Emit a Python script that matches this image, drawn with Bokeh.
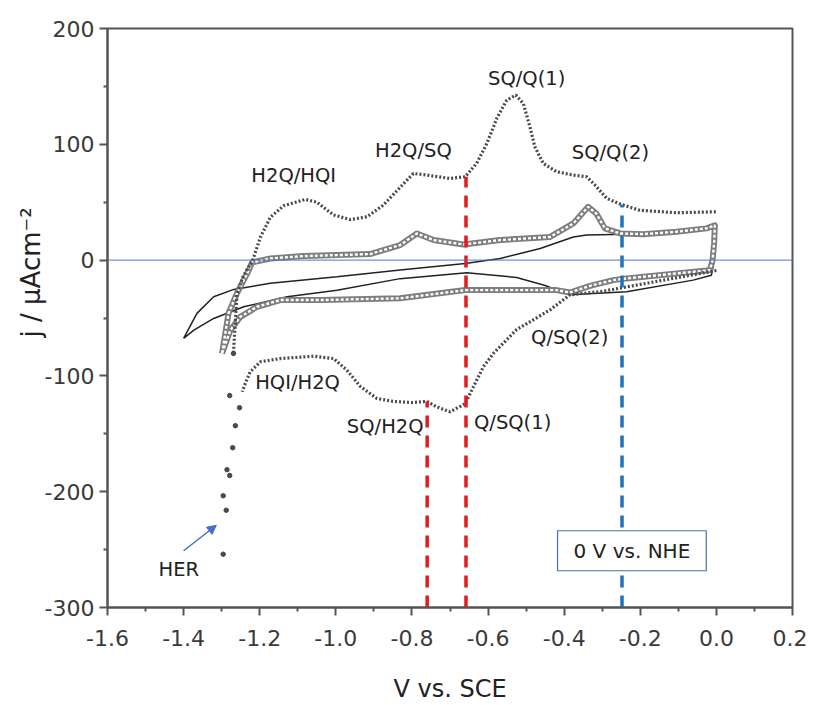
from bokeh.plotting import figure
from bokeh.models import (Range1d, FixedTicker, Span, Label, Arrow, NormalHead,
                          ColumnDataSource, Title)
from bokeh.core.properties import value
from bokeh.embed import file_html
from bokeh.resources import INLINE

FONT = "DejaVu Sans"

# ---------------- data ----------------
# dotted curve (+ markers): anodic branch
ox_v = [-1.269, -1.260, -1.245, -1.233, -1.220, -1.198, -1.172, -1.137, -1.080, -1.050,
        -1.006, -0.962, -0.918, -0.875, -0.822, -0.796, -0.761, -0.700, -0.660, -0.630,
        -0.603, -0.577, -0.551, -0.527, -0.507, -0.490, -0.477, -0.455, -0.420, -0.376,
        -0.341, -0.319, -0.288, -0.253, -0.201, -0.105, 0.0]
ox_j = [-80, -30, -15, -8, -1.5, 20, 37, 47, 52.4, 50,
        39, 35, 37.4, 47.5, 66, 74.8, 73.4, 70.5, 72, 83.5,
        100.8, 122.4, 138, 142.5, 135, 115, 97.8, 83.5, 76.3, 73.4,
        72, 64.8, 53.3, 48.4, 43, 40.9, 41.7]
# dotted curve: cathodic branch
rd_v = [0.0, -0.10, -0.20, -0.30, -0.385, -0.437, -0.525, -0.586, -0.612, -0.638,
        -0.660, -0.700, -0.735, -0.761, -0.800, -0.849, -0.892, -0.936, -0.971, -1.006,
        -1.059, -1.146, -1.198, -1.225, -1.238, -1.246]
rd_j = [-9, -15, -21, -27, -30, -43, -60, -80.6, -92, -109,
        -124, -131, -126.7, -122, -123, -122, -119.5, -109, -95, -85,
        -83, -85, -87.8, -96.4, -106.5, -113.7]
# sparse points in the HER region
her_v = [-1.269, -1.279, -1.253, -1.264, -1.271, -1.286, -1.279, -1.296, -1.288, -1.296]
her_j = [-80.6, -117, -127.5, -143, -162, -181, -186, -203.5, -216, -254]

# open-circle curve (closed loop)
circ_v = [-1.299, -1.282, -1.260, -1.233, -1.220, -1.172, -1.085, -0.997, -0.910, -0.831,
          -0.787, -0.743, -0.665, -0.568, -0.437, -0.376, -0.337, -0.315, -0.293, -0.253,
          -0.192, -0.105, -0.026, -0.004, -0.006, -0.010, -0.017, -0.026, -0.105, -0.236,
          -0.271, -0.330, -0.385, -0.420, -0.568, -0.660, -0.831, -1.041, -1.146, -1.207,
          -1.251, -1.277, -1.299]
circ_j = [-80.6, -46, -28.8, -11.5, -2, 1.4, 3.5, 4.3, 5.2, 13,
          23, 17.3, 13.5, 17.3, 20, 31.7, 46, 40, 27.4, 23,
          22.4, 24.5, 27.4, 30, 14.4, 0, -8.6, -9, -11.5, -15.8,
          -17.3, -22, -28, -25.9, -25.9, -25.9, -33, -34.5, -34.5, -40.3,
          -49, -60.4, -80.6]

# solid curve (closed loop)
sol_v = [-1.400, -1.365, -1.321, -1.268, -1.172, -0.997, -0.831, -0.660, -0.568, -0.463,
         -0.376, -0.341, -0.236, -0.105, -0.004, -0.006, -0.013, -0.061, -0.236, -0.385,
         -0.450, -0.525, -0.656, -0.831, -0.997, -1.128, -1.242, -1.321, -1.373, -1.400]
sol_j = [-67.6, -46, -31.7, -25.3, -20, -14.4, -8.6, -2.9, 1.4, 10,
         20, 21.6, 22.4, 24.5, 28.8, 0, -13, -17.3, -27.4, -30,
         -22, -15, -11, -16, -26, -31.7, -40.3, -50.4, -60.4, -67.6]

# vertical guide lines
guide_x = [-0.76, -0.658, -0.248]
guide_top = [-122, 72, 48]
guide_bottom = [-300, -300, -300]
guide_color = ["#e41a1c", "#e41a1c", "#1f72c0"]

# peak annotations
ann_text = ["H2Q/HQI", "H2Q/SQ", "SQ/Q(1)", "SQ/Q(2)", "HQI/H2Q", "SQ/H2Q", "Q/SQ(1)", "Q/SQ(2)", "HER"]
ann_x = [-1.222, -0.897, -0.600, -0.380, -1.212, -0.971, -0.637, -0.487, -1.466]
ann_y = [73.4, 95, 157, 93.3, -106, -144, -140, -67, -267]

x_ticks = [-1.6, -1.4, -1.2, -1.0, -0.8, -0.6, -0.4, -0.2, 0.0, 0.2]
x_tick_labels = ["-1.6", "-1.4", "-1.2", "-1.0", "-0.8", "-0.6", "-0.4", "-0.2", "0.0", "0.2"]
x_minor = [-1.5, -1.3, -1.1, -0.9, -0.7, -0.5, -0.3, -0.1, 0.1]
y_ticks = [-300, -200, -100, 0, 100, 200]
y_tick_labels = ["-300", "-200", "-100", "0", "100", "200"]
y_minor = [-250, -150, -50, 50, 150]

# ---------------- figure ----------------
p = figure(frame_width=685, frame_height=579,
           x_range=Range1d(-1.6, 0.2), y_range=Range1d(-300, 200),
           output_backend="svg", toolbar_location=None,
           min_border_left=107, min_border_right=15, min_border_top=28, min_border_bottom=60)
p.grid.visible = False
p.outline_line_color = "#555555"
p.outline_line_width = 2
p.background_fill_color = "white"

for ax in (p.xaxis[0], p.yaxis[0]):
    ax.axis_line_color = "#555555"
    ax.axis_line_width = 2
    ax.major_tick_line_color = "#555555"
    ax.major_tick_line_width = 2
    ax.minor_tick_line_color = "#555555"
    ax.minor_tick_line_width = 2
    ax.major_tick_out = 8
    ax.major_tick_in = 0
    ax.minor_tick_out = 4
    ax.minor_tick_in = 0
    ax.major_label_text_font = FONT
    ax.major_label_text_font_size = "22px"
    ax.major_label_text_color = "#3a3a3a"
p.xaxis.major_label_standoff = 14
p.yaxis.major_label_standoff = 5

p.xaxis.ticker = FixedTicker(ticks=x_ticks, minor_ticks=x_minor)
p.xaxis.major_label_overrides = dict(zip(x_ticks, x_tick_labels))
p.yaxis.ticker = FixedTicker(ticks=y_ticks, minor_ticks=y_minor)
p.yaxis.major_label_overrides = dict(zip(y_ticks, y_tick_labels))

p.xaxis.axis_label = "V vs. SCE"
p.xaxis.axis_label_text_font = FONT
p.xaxis.axis_label_text_font_style = "normal"
p.xaxis.axis_label_text_font_size = "24px"
p.xaxis.axis_label_text_color = "#222222"
p.xaxis.axis_label_standoff = 26

# y-axis label as a left title, shifted upward like the original
ytitle = Title(text="j / µAcm⁻²", align="left", offset=270,
               text_font=FONT, text_font_size="26px", text_font_style="normal",
               text_color="#222222")
if "standoff" in Title.properties():
    for s in (-8, 0):
        try:
            ytitle.standoff = s
            break
        except Exception:
            pass
p.add_layout(ytitle, "left")

# zero line
p.add_layout(Span(location=0, dimension="width", line_color="#4a78c0", line_width=1))

# solid curve
p.line(sol_v, sol_j, line_color="#222222", line_width=1.5)

# open-circle curve: grey chain
p.line(circ_v, circ_j, line_color="#7d7d7d", line_width=6, line_join="round")
p.line(circ_v, circ_j, line_color="white", line_width=2.4, line_dash="3 2")

# dotted curve
p.line(ox_v, ox_j, line_color="#4a4a4a", line_width=3.2, line_dash="2 2")
p.line(rd_v, rd_j, line_color="#4a4a4a", line_width=3.2, line_dash="2 2")
p.scatter(her_v, her_j, marker="circle", size=4.5, fill_color="#4a4a4a", line_color="#4a4a4a")

# guide lines
gsrc = ColumnDataSource(dict(x=guide_x, y0=guide_bottom, y1=guide_top, c=guide_color))
p.segment(x0="x", y0="y0", x1="x", y1="y1", source=gsrc, line_color="c",
          line_width=3.5, line_dash="12 8")

# annotations
asrc = ColumnDataSource(dict(x=ann_x, y=ann_y, t=ann_text))
p.text(x="x", y="y", text="t", source=asrc, text_font=value(FONT),
       text_font_size="19.5px", text_color="#222222", text_baseline="middle", text_align="left")

p.add_layout(Arrow(x_start=-1.40, y_start=-251, x_end=-1.314, y_end=-229,
                   line_color="#4472c4", line_width=1.5,
                   end=NormalHead(size=9, fill_color="#4472c4", line_color="#4472c4")))

p.add_layout(Label(x=-0.222, y=-251, text="0 V vs. NHE", text_font=FONT,
                   text_font_size="20px", text_color="#222222",
                   text_align="center", text_baseline="middle",
                   background_fill_color="white", border_line_color="#4a6fa5",
                   border_line_width=1.2, padding=dict(left=16, right=16, top=8, bottom=8)))

open("out.html", "w").write(file_html(p, INLINE))
